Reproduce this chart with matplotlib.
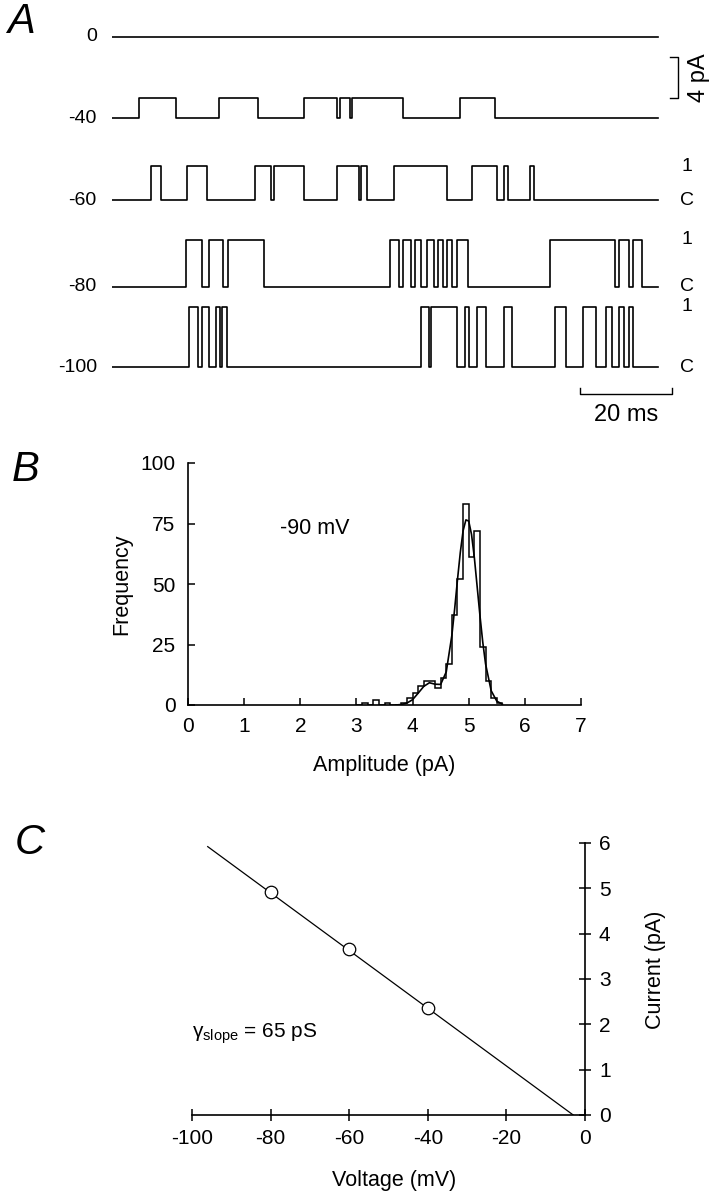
import numpy as np
import matplotlib.pyplot as plt

plt.rcParams['font.family'] = ['Liberation Sans', 'DejaVu Sans']
plt.rcParams['axes.unicode_minus'] = False
plt.rcParams['mathtext.fontset'] = 'custom'
plt.rcParams['mathtext.rm'] = 'Liberation Sans'
plt.rcParams['mathtext.it'] = 'Liberation Sans:italic'

# ---- A: idealised single-channel records, openings as (start, end) in ms ----
trace_labels = ['0', '-40', '-60', '-80', '-100']
trace_amplitudes = [0.0, 2.0, 3.3, 4.6, 5.9]  # pA
record_length = 118.7  # ms
openings_0 = []
openings_40 = [(5.8, 14.0), (23.3, 31.7), (41.7, 48.9), (49.6, 51.7),
               (52.2, 63.2), (75.7, 83.2)]
openings_60 = [(8.4, 10.6), (16.2, 20.7), (31.0, 34.5), (35.3, 41.7),
               (48.9, 53.6), (54.2, 55.4), (61.2, 72.9), (78.2, 83.8),
               (85.3, 86.0), (90.8, 91.8)]
openings_80 = [(16.0, 19.5), (21.0, 24.2), (25.2, 33.0), (60.4, 62.4),
               (63.2, 64.9), (65.9, 67.2), (68.4, 69.9), (70.9, 71.9),
               (72.9, 73.9), (74.9, 77.4), (95.3, 109.3), (110.3, 112.3),
               (113.3, 115.3)]
openings_100 = [(16.7, 18.8), (19.5, 21.0), (22.7, 23.5), (24.0, 25.0),
                (67.1, 68.9), (69.4, 74.9), (76.7, 77.6), (79.3, 81.2),
                (85.3, 87.0), (96.3, 98.8), (102.3, 105.3), (107.3, 108.8),
                (110.3, 111.3), (112.3, 113.3)]
all_openings = [openings_0, openings_40, openings_60, openings_80, openings_100]

# ---- B: amplitude histogram at -90 mV (0.1 pA bins from 3.0 pA) ----
bin_start = 3.0
bin_width = 0.1
hist_counts = [0, 1, 0, 2, 0, 1, 0, 0, 1, 3, 5, 8, 10, 10, 7, 11, 17, 37,
               52, 83, 61, 72, 24, 10, 3, 1]
fit_amp = [3.7, 3.8, 3.9, 4.0, 4.1, 4.2, 4.3, 4.4, 4.5, 4.6, 4.7, 4.75, 4.8,
           4.85, 4.9, 4.95, 5.0, 5.05, 5.1, 5.15, 5.2, 5.25, 5.3, 5.4, 5.5, 5.6]
fit_freq = [0, 0.2, 0.8, 2.2, 4.9, 7.7, 9.2, 8.6, 8.5, 13.7, 28.8, 39.8, 51.8,
            63, 72, 76.5, 76, 70.5, 61, 49, 37, 26, 17, 5.9, 1.6, 0.3]

# ---- C: current-voltage relation ----
iv_voltage = [-80, -60, -40]
iv_current = [4.91, 3.67, 2.35]
line_voltage = [-96, -3]
line_current = [5.92, 0.0]

W, H = 719, 1199
fig = plt.figure(figsize=(W / 100, H / 100), dpi=100)


def frac(x0, y_top, x1, y_bot):
    # pixel box -> figure fraction [left, bottom, width, height]
    return [x0 / W, 1 - y_bot / H, (x1 - x0) / W, (y_bot - y_top) / H]


def idealise(openings, amp, length):
    t, y = [0.0], [0.0]
    for a, b in openings:
        t += [a, a, b, b]
        y += [0.0, amp, amp, 0.0]
    t.append(length)
    y.append(0.0)
    return np.array(t), np.array(y)


# panel A
axA = fig.add_axes(frac(112, 20, 700, 420))
axA.set_xlim(0, 588 / 4.6)
axA.set_ylim(0, 400 / 10.25)
axA.axis('off')
trace_base = [37.4, 29.46, 21.46, 12.98, 5.17]
for lab, amp, op, base in zip(trace_labels, trace_amplitudes, all_openings, trace_base):
    t, y = idealise(op, amp, record_length)
    axA.plot(t, base + y, color='black', lw=1.2)
    axA.text(-3.3, base, lab, ha='right', va='center', fontsize=14)
    if lab in ('-60', '-80', '-100'):
        axA.text(125, base + amp, '1', ha='center', va='center', fontsize=14)
        axA.text(125, base, 'C', ha='center', va='center', fontsize=14)

# scale bars
sb_x = 123.0
axA.plot([sb_x - 1.6, sb_x, sb_x, sb_x - 1.6], [31.41, 31.41, 35.41, 35.41],
         color='black', lw=1.0, clip_on=False)
axA.text(127.6, 33.41, '4 pA', rotation=90, ha='center', va='center', fontsize=17)
axA.plot([101.7, 101.7, 121.7, 121.7], [3.1, 2.54, 2.54, 3.1],
         color='black', lw=1.0, clip_on=False)
axA.text(111.7, 0.45, '20 ms', ha='center', va='center', fontsize=17)

# panel B
axB = fig.add_axes(frac(188, 463, 581, 705))
edges = bin_start + bin_width * np.arange(len(hist_counts) + 1)
axB.stairs(hist_counts, edges, color='black', lw=1.1)
axB.plot(fit_amp, fit_freq, color='black', lw=1.2)
axB.set_xlim(0, 7)
axB.set_ylim(0, 100)
axB.set_xticks(range(8))
axB.set_yticks([0, 25, 50, 75, 100])
for s in ('top', 'right'):
    axB.spines[s].set_visible(False)
for s in ('left', 'bottom'):
    axB.spines[s].set_linewidth(1.2)
axB.tick_params(direction='in', length=5, width=1.1, labelsize=15, pad=9)
axB.text(0.5, -0.25, 'Amplitude (pA)', transform=axB.transAxes,
         ha='center', va='center', fontsize=15.5)
axB.text(-0.168, 0.5, 'Frequency', transform=axB.transAxes, rotation=90,
         ha='center', va='center', fontsize=15.5)
axB.text(1.64, 73, '-90 mV', ha='left', va='center', fontsize=15.5)

# panel C
axC = fig.add_axes(frac(192, 843, 585, 1115))
axC.plot(line_voltage, line_current, color='black', lw=0.9)
axC.plot(iv_voltage, iv_current, 'o', ms=9, mfc='white', mec='black', mew=0.9)
axC.set_xlim(-100, 0)
axC.set_ylim(0, 6)
axC.set_xticks([-100, -80, -60, -40, -20, 0])
axC.set_yticks(range(7))
for s in ('top', 'left'):
    axC.spines[s].set_visible(False)
for s in ('right', 'bottom'):
    axC.spines[s].set_linewidth(1.2)
axC.yaxis.tick_right()
axC.tick_params(direction='inout', length=8, width=1.1, labelsize=15, pad=6)
axC.text(0.514, -0.24, 'Voltage (mV)', transform=axC.transAxes,
         ha='center', va='center', fontsize=15.5)
axC.text(1.18, 0.533, 'Current (pA)', transform=axC.transAxes, rotation=90,
         ha='center', va='center', fontsize=15.5)
axC.text(-100, 1.8, r'$\mathrm{\gamma}_{\mathrm{slope}}$ = 65 pS',
         ha='left', va='center', fontsize=15)

# panel letters
for letter, x, y in (('A', 21, 22), ('B', 26, 470), ('C', 30, 843)):
    fig.text(x / W, 1 - y / H, letter, fontsize=30, fontstyle='italic',
             ha='center', va='center')

fig.savefig('out.png', dpi=100)
